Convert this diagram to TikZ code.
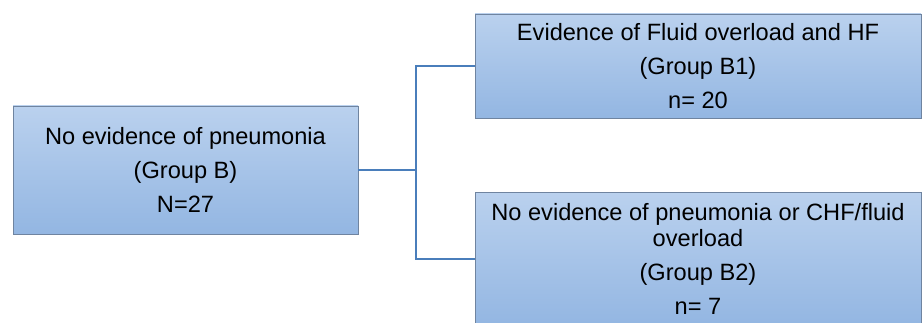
\documentclass[tikz,border=0pt]{standalone}
\usepackage{fontspec}
\setmainfont{Liberation Sans}
\usepackage{xcolor}
\usepackage{tikz}
\usetikzlibrary{positioning}
\definecolor{boxtop}{HTML}{BAD1EE}
\definecolor{boxbot}{HTML}{93B6E2}
\definecolor{boxedge}{HTML}{6F84A0}
\definecolor{link}{HTML}{4A7EBB}
\tikzset{
  groupbox/.style={draw=boxedge, line width=0.9pt, top color=boxtop, bottom color=boxbot,
    align=center, inner sep=0pt, font=\fontsize{23.6}{34}\selectfont},
  linkline/.style={draw=link, line width=1.6pt},
}
\begin{document}
\begin{tikzpicture}[x=1pt,y=1pt]
  \useasboundingbox (0,0) rectangle (922,322);

  \node[groupbox, minimum width=345pt, minimum height=128pt] (B) at (185.5,152)
    {No evidence of pneumonia\\(Group B)\\N=27};
  \node[groupbox, minimum width=446pt, minimum height=104pt] (Bone) at (698,256)
    {Evidence of Fluid overload and HF\\(Group B1)\\n= 20};
  \node[groupbox, minimum width=446pt, minimum height=134pt] (Btwo) at (698,63)
    {No evidence of pneumonia or CHF/fluid\\[-8pt]overload\\(Group B2)\\n= 7};

  % split into the two subgroups
  \coordinate (split) at (416,152);
  \draw[linkline] (B.east) -- (split);
  \draw[linkline] (split) |- (Bone.west);
  \draw[linkline] (split) |- (Btwo.west);
\end{tikzpicture}
\end{document}
